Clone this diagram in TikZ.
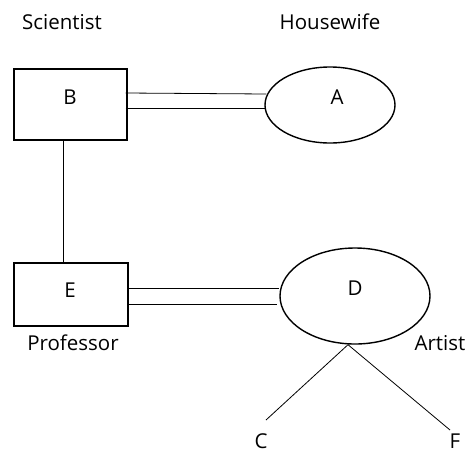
\documentclass[tikz,border=0pt]{standalone}
\usepackage{fontspec}
\setmainfont{Open Sans}
\usetikzlibrary{shapes.geometric}
\begin{document}
\begin{tikzpicture}[x=1pt,y=-1pt,
  every node/.style={font=\fontsize{20.5}{24}\selectfont},
  ent/.style={draw,line width=1.4pt,rectangle,minimum width=113pt,minimum height=71pt,inner sep=0pt},
  ell/.style={draw,line width=1.4pt,ellipse,inner sep=0pt},
  conn/.style={line width=0.8pt},
  lbl/.style={inner sep=0pt,anchor=base},
  ch/.style={inner sep=0pt}]
\useasboundingbox (0,0) rectangle (468,453);
\node[ent] (B) at (70.5,104.5) {};
\node[ch] at (70,97) {B};
\node[ell,minimum width=130pt,minimum height=76pt] (A) at (330,105) {};
\node[ch] at (337,97) {A};
\node[ent,minimum height=63pt,minimum width=114pt] (E) at (71,294.5) {};
\node[ch] at (70,290) {E};
\node[ell,minimum width=150pt,minimum height=96pt] (D) at (355,296) {};
\node[ch] at (355,288) {D};
\node[lbl] (sc) at (62,29) {Scientist};
\node[lbl] (hw) at (330,29) {Housewife};
\node[lbl] (pr) at (73,350) {Professor};
\node[lbl] (ar) at (440,350) {Artist};
\node[ch] (C) at (261,441) {C};
\node[ch] (F) at (455,441) {F};
\coordinate (cend) at (266,420);
\coordinate (fend) at (450,430);
\draw[conn] ([yshift=11.5pt,xshift=-2pt]B.east) -- ([yshift=11pt,xshift=2pt]A.west);
\draw[conn] ([yshift=-3.5pt,xshift=-2pt]B.east) -- ([yshift=-3pt,xshift=1pt]A.west);
\draw[conn] (B.south -| 63,0) -- (E.north -| 63,0);
\draw[conn] ([yshift=6.5pt]E.east) -- ([yshift=8pt]D.west);
\draw[conn] ([yshift=-9.5pt]E.east) -- ([yshift=-8pt,xshift=-2pt]D.west);
\draw[conn] ([xshift=-7pt]D.south) -- (cend);
\draw[conn] ([xshift=-7pt]D.south) -- (fend);
\end{tikzpicture}
\end{document}
